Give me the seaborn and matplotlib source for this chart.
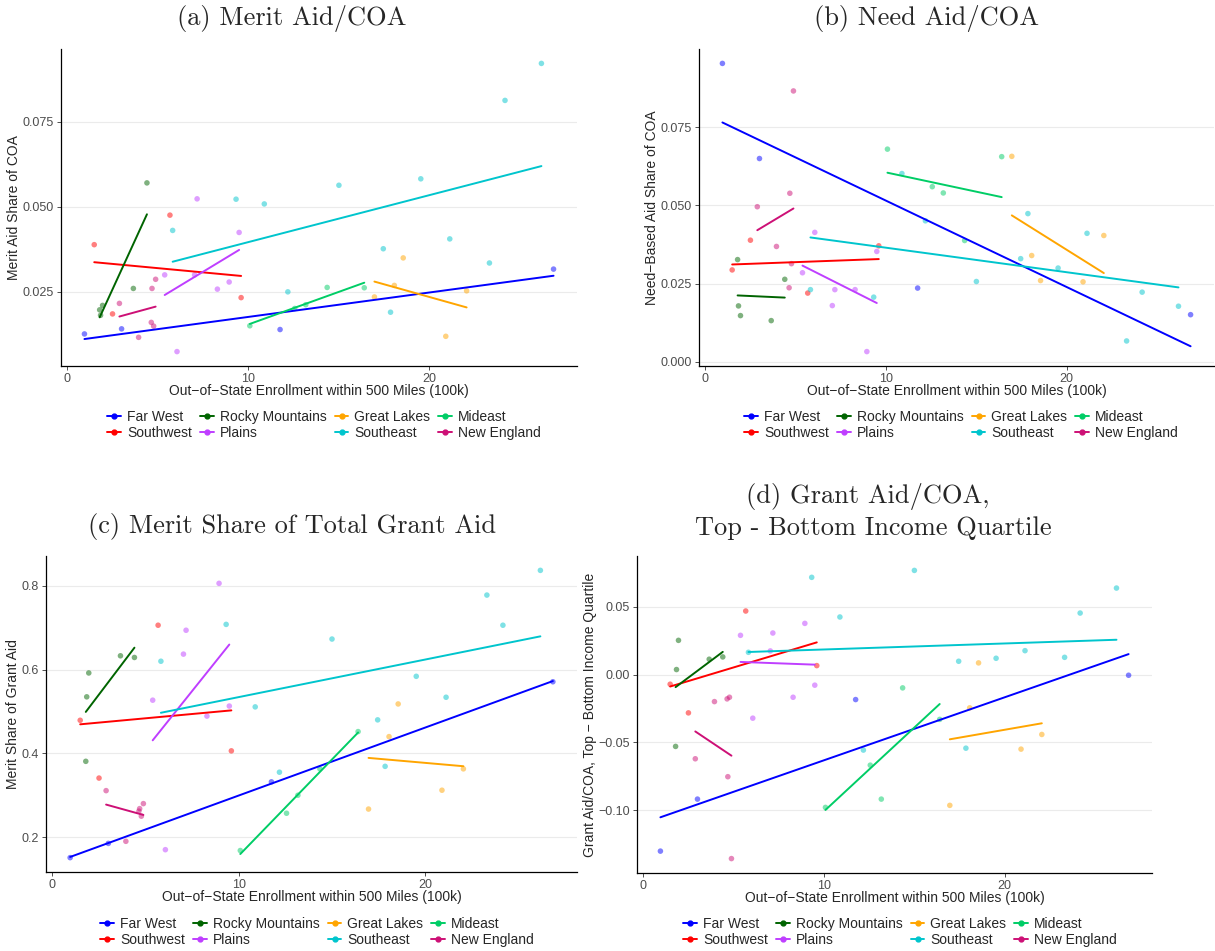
#aid vs out-of-state enrollment, four panels by region
import numpy as np
import pandas as pd
import seaborn as sns
import matplotlib.pyplot as plt
from matplotlib.lines import Line2D

regions = ["Far West", "Southwest", "Rocky Mountains", "Plains",
           "Great Lakes", "Southeast", "Mideast", "New England"]
region_colors = {"Far West": "#0000FF", "Southwest": "#FF0000",
                 "Rocky Mountains": "#006400", "Plains": "#BF3EFF",
                 "Great Lakes": "#FFA500", "Southeast": "#00C5CD",
                 "Mideast": "#00CD66", "New England": "#CD1076"}

state_region = (["Far West"] * 4 + ["Southwest"] * 4 + ["Rocky Mountains"] * 5 +
                ["Plains"] * 7 + ["Southeast"] * 12 + ["Mideast"] * 5 +
                ["Great Lakes"] * 5 + ["New England"] * 6)

# out-of-state enrollment within 500 miles (100k)
enroll = [0.95, 3.00, 11.75, 26.85,
          1.49, 2.50, 5.67, 9.60,
          1.79, 1.84, 1.95, 3.65, 4.40,
          5.38, 6.06, 7.03, 7.17, 8.29, 8.94, 9.49,
          5.82, 9.32, 10.88, 12.18, 15.00, 17.45, 17.85, 19.52, 21.12, 23.31, 24.17, 26.18,
          10.08, 12.56, 13.17, 14.35, 16.40,
          16.96, 18.06, 18.55, 20.90, 22.05,
          2.88, 3.94, 4.64, 4.68, 4.77, 4.88]

merit_coa = [0.0125, 0.0140, 0.0138, 0.0316,
             0.0388, 0.0184, 0.0475, 0.0232,
             0.0196, 0.0180, 0.0209, 0.0259, 0.0570,
             0.0299, 0.0073, 0.0299, 0.0523, 0.0257, 0.0278, 0.0424,
             0.0430, 0.0522, 0.0508, 0.0249, 0.0563, 0.0376, 0.0189, 0.0582, 0.0405, 0.0334, 0.0813, 0.0922,
             0.0149, 0.0200, 0.0211, 0.0262, 0.0261,
             0.0234, 0.0268, 0.0349, 0.0118, 0.0252,
             0.0215, 0.0115, 0.0159, 0.0259, 0.0148, 0.0286]

need_coa = [0.0954, 0.0650, 0.0236, 0.0151,
            0.0294, 0.0389, 0.0220, 0.0371,
            0.0327, 0.0179, 0.0148, 0.0132, 0.0264,
            0.0285, 0.0414, 0.0180, 0.0231, 0.0231, 0.0033, 0.0353,
            0.0231, 0.0207, 0.0602, 0.0451, 0.0257, 0.0330, 0.0474, 0.0300, 0.0411, 0.0067, 0.0223, 0.0178,
            0.0680, 0.0560, 0.0540, 0.0388, 0.0656,
            0.0657, 0.0340, 0.0260, 0.0256, 0.0404,
            0.0496, 0.0369, 0.0237, 0.0539, 0.0314, 0.0866]

merit_share = [0.151, 0.185, 0.332, 0.571,
               0.479, 0.341, 0.706, 0.406,
               0.381, 0.535, 0.592, 0.633, 0.629,
               0.527, 0.170, 0.637, 0.694, 0.489, 0.806, 0.513,
               0.620, 0.708, 0.511, 0.355, 0.673, 0.480, 0.369, 0.584, 0.534, 0.778, 0.706, 0.837,
               0.168, 0.257, 0.300, 0.363, 0.452,
               0.267, 0.440, 0.518, 0.312, 0.363,
               0.311, 0.190, 0.262, 0.268, 0.250, 0.280]

grant_gap = [-0.1300, -0.0917, -0.0184, -0.0005,
             -0.0071, -0.0282, 0.0468, 0.0066,
             -0.0529, 0.0037, 0.0252, 0.0113, 0.0130,
             0.0289, -0.0321, 0.0174, 0.0306, -0.0167, 0.0377, -0.0078,
             0.0164, 0.0716, 0.0424, -0.0556, 0.0767, 0.0098, -0.0542, 0.0120, 0.0176, 0.0127, 0.0453, 0.0637,
             -0.0978, -0.0667, -0.0917, -0.0098, -0.0330,
             -0.0963, -0.0245, 0.0086, -0.0549, -0.0441,
             -0.0620, -0.0199, -0.0179, -0.0752, -0.0167, -0.1355]

df = pd.DataFrame({"region": state_region, "enroll": enroll, "merit_coa": merit_coa,
                   "need_coa": need_coa, "merit_share": merit_share, "grant_gap": grant_gap})

sns.set_style("white")
plt.rcParams["font.family"] = ["Liberation Sans", "DejaVu Sans"]

fig = plt.figure(figsize=(12.15, 9.51), dpi=100)
W, H = 1215, 951

# column, title lines (text, x, baseline y), y label, yticks, tick labels, axes box px, legend centre px
panels = [
    ("merit_coa", [("(a) Merit Aid/COA", 292, 25)], "Merit Aid Share of COA",
     [0.025, 0.050, 0.075], ["0.025", "0.050", "0.075"], (61, 49, 577, 366), (324, 425)),
    ("need_coa", [("(b) Need Aid/COA", 926, 25)], "Need\u2212Based Aid Share of COA",
     [0.0, 0.025, 0.050, 0.075], ["0.000", "0.025", "0.050", "0.075"], (699, 49, 1214, 366), (961, 425)),
    ("merit_share", [("(c) Merit Share of Total Grant Aid", 292, 533)], "Merit Share of Grant Aid",
     [0.2, 0.4, 0.6, 0.8], ["0.2", "0.4", "0.6", "0.8"], (46, 556, 577, 872), (317, 932)),
    ("grant_gap", [("(d) Grant Aid/COA,", 868, 503), ("Top - Bottom Income Quartile", 873, 535)],
     "Grant Aid/COA, Top \u2212 Bottom Income Quartile",
     [-0.10, -0.05, 0.0, 0.05], ["\u22120.10", "\u22120.05", "0.00", "0.05"], (637, 556, 1152, 873), (900, 932)),
]

xmin, xmax = df.enroll.min(), df.enroll.max()
xpad = (xmax - xmin) * 0.05

for col, titles, ylab, yt, ytl, box, leg_c in panels:
    x0, y0, x1, y1 = box
    ax = fig.add_axes([x0 / W, 1 - y1 / H, (x1 - x0) / W, (y1 - y0) / H])

    sns.scatterplot(data=df, x="enroll", y=col, hue="region", hue_order=regions,
                    palette=region_colors, s=16, alpha=0.5, linewidth=0, legend=False, ax=ax)
    for reg in regions:
        sub = df[df.region == reg]
        sns.regplot(data=sub, x="enroll", y=col, ax=ax, ci=None, scatter=False,
                    color=region_colors[reg], line_kws=dict(lw=1.4))

    ymin, ymax = df[col].min(), df[col].max()
    ypad = (ymax - ymin) * 0.05
    ax.set_xlim(xmin - xpad, xmax + xpad)
    ax.set_ylim(ymin - ypad, ymax + ypad)
    ax.set_xticks([0, 10, 20])
    ax.set_yticks(yt)
    ax.set_yticklabels(ytl)
    ax.yaxis.grid(True, color="#EBEBEB", lw=0.8)
    ax.xaxis.grid(False)
    ax.set_axisbelow(True)
    for s in ["top", "right"]:
        ax.spines[s].set_visible(False)
    for s in ["left", "bottom"]:
        ax.spines[s].set_color("black")
        ax.spines[s].set_linewidth(0.9)
    ax.tick_params(axis="both", length=3, width=0.6, color="#333333",
                   labelcolor="#4D4D4D", labelsize=9, pad=2, left=True, bottom=True)
    ax.set_xlabel("Out\u2212of\u2212State Enrollment within 500 Miles (100k)", fontsize=10, labelpad=-1)
    ax.set_ylabel(ylab, fontsize=10, labelpad=1)

    for txt, tx, ty in titles:
        fig.text(tx / W, 1 - ty / H, txt, fontfamily="cmr10", fontsize=19,
                 ha="center", va="baseline")

    handles = [Line2D([0], [0], color=region_colors[r], lw=1.4, marker="o", markersize=3.5)
               for r in regions]
    fig.legend(handles, regions, loc="center", ncol=4, frameon=False, fontsize=10,
               bbox_to_anchor=(leg_c[0] / W, 1 - leg_c[1] / H), handlelength=1.0,
               handletextpad=0.4, columnspacing=0.6, labelspacing=0.1, borderaxespad=0)

fig.savefig("out.png", dpi=100)
